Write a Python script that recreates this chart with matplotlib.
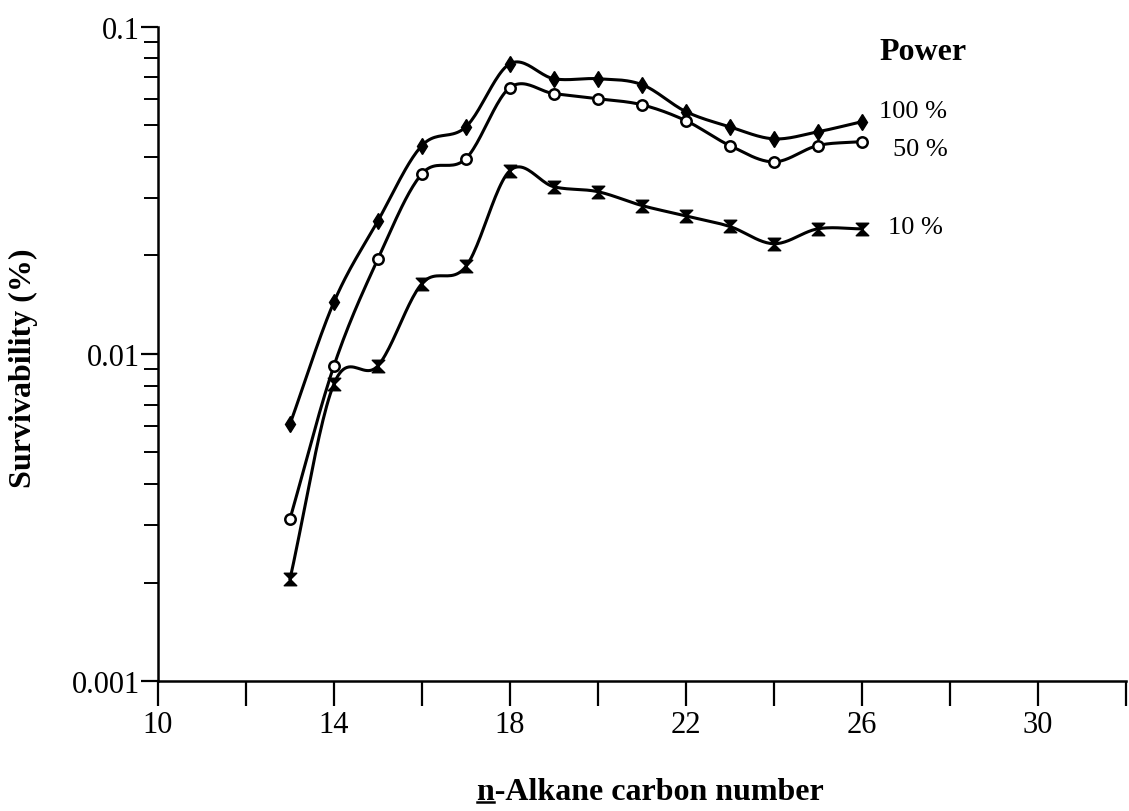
import numpy as np
import matplotlib
matplotlib.use('Agg')
import matplotlib.pyplot as plt
from matplotlib.path import Path
from matplotlib.lines import Line2D

plt.rcParams['font.family'] = ['Liberation Serif', 'DejaVu Serif']

# n-alkane carbon number vs survivability (%), one series per power level
carbon = [13, 14, 15, 16, 17, 18, 19, 20, 21, 22, 23, 24, 25, 26]
power_100 = [0.0061, 0.0144, 0.0255, 0.0433, 0.0494, 0.0770, 0.0693,
             0.0693, 0.0665, 0.0550, 0.0494, 0.0454, 0.0477, 0.0512]
power_50 = [0.00313, 0.0092, 0.0195, 0.0355, 0.0395, 0.0651, 0.0624,
            0.0602, 0.0577, 0.0516, 0.0433, 0.0386, 0.0433, 0.0445]
power_10 = [0.00205, 0.0081, 0.0092, 0.0164, 0.0185, 0.0363, 0.0324,
            0.0313, 0.0284, 0.0264, 0.0245, 0.0217, 0.0241, 0.0241]

xticks = list(range(10, 33, 2))
xticklabels = ['10', '', '14', '', '18', '', '22', '', '26', '', '30', '']


def catmull_rom(x, y, n=24):
    # smooth curve through the points, done in (x, log y) space
    pts = np.column_stack([x, np.log10(y)])
    p = np.vstack([2 * pts[0] - pts[1], pts, 2 * pts[-1] - pts[-2]])
    t = np.linspace(0, 1, n, endpoint=False)[:, None]
    out = []
    for i in range(1, len(p) - 2):
        p0, p1, p2, p3 = p[i - 1], p[i], p[i + 1], p[i + 2]
        seg = 0.5 * (2 * p1 + (-p0 + p2) * t
                     + (2 * p0 - 5 * p1 + 4 * p2 - p3) * t**2
                     + (-p0 + 3 * p1 - 3 * p2 + p3) * t**3)
        out.append(seg)
    out.append(pts[-1:])
    c = np.vstack(out)
    return c[:, 0], 10**c[:, 1]


# hourglass marker for the 10 % series
hourglass = Path([(-1, 1), (1, 1), (-1, -1), (1, -1), (-1, 1)],
                 [Path.MOVETO, Path.LINETO, Path.LINETO, Path.LINETO, Path.CLOSEPOLY])

fig = plt.figure(figsize=(11.29, 8.12), dpi=100)
ax = fig.add_axes([0.140, 0.160, 0.857, 0.806])

series = [
    (power_100, dict(marker='d', markersize=8, markerfacecolor='black')),
    (power_50, dict(marker='o', markersize=7.5, markerfacecolor='white', markeredgewidth=1.8)),
    (power_10, dict(marker=hourglass, markersize=9, markerfacecolor='black')),
]
for vals, mk in series:
    sx, sy = catmull_rom(carbon, vals)
    ax.plot(sx, sy, color='black', lw=2.2, zorder=2)
    ax.plot(carbon, vals, linestyle='none', markeredgecolor='black', zorder=3, **mk)

ax.set_yscale('log')
ax.set_ylim(0.001, 0.1)
ax.set_xlim(10, 32)
ax.set_yticks([0.001, 0.01, 0.1])
ax.set_yticklabels(['0.001', '0.01', '0.1'])
ax.set_xticks(xticks)
ax.set_xticklabels(xticklabels)
ax.yaxis.set_minor_formatter(plt.NullFormatter())
ax.xaxis.set_minor_locator(plt.NullLocator())

for s in ['top', 'right']:
    ax.spines[s].set_visible(False)
for s in ['left', 'bottom']:
    ax.spines[s].set_linewidth(1.8)

ax.tick_params(axis='x', which='major', direction='out', length=18, width=1.6,
               labelsize=22, pad=3)
ax.tick_params(axis='y', which='major', direction='out', length=12, width=1.6,
               labelsize=22, pad=1)
ax.tick_params(axis='y', which='minor', direction='out', length=10, width=1.4)

ax.set_ylabel('Survivability (%)', fontsize=23, fontweight='bold')
ax.yaxis.set_label_coords(-0.124, 0.48)

# series labels
ax.text(27.4, 0.0839, 'Power', fontsize=23, fontweight='bold', ha='center', va='center')
ax.text(26.4, 0.0553, '100 %', fontsize=19, ha='left', va='center')
ax.text(26.7, 0.0423, '50 %', fontsize=19, ha='left', va='center')
ax.text(26.6, 0.0244, '10 %', fontsize=19, ha='left', va='center')

# x label with underlined leading "n"
xl = fig.text(0.5757, 0.0246, 'n-Alkane carbon number', fontsize=23,
              fontweight='bold', ha='center', va='center')
fig.canvas.draw()
r = fig.canvas.get_renderer()
bb = xl.get_window_extent(r)
tmp = fig.text(0, 0, 'n', fontsize=23, fontweight='bold')
nw = tmp.get_window_extent(r).width
tmp.remove()
W, H = fig.bbox.width, fig.bbox.height
uy = (bb.y0 + 4) / H
fig.add_artist(Line2D([bb.x0 / W, (bb.x0 + nw) / W], [uy, uy],
                      color='black', lw=1.8, transform=fig.transFigure))

fig.savefig('out.png', dpi=100)
